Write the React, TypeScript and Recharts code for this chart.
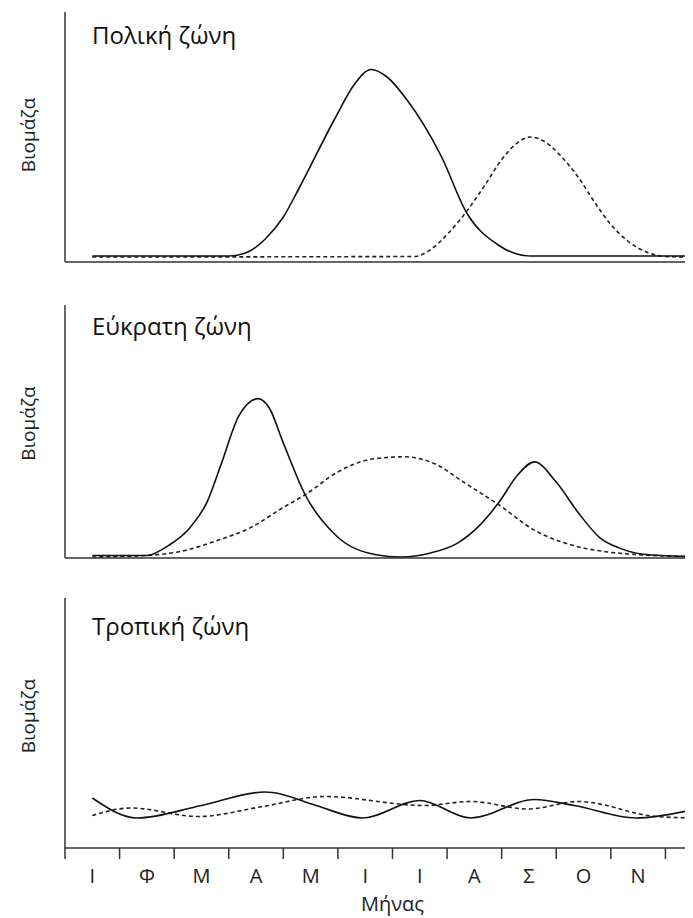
import { LineChart, Line, XAxis, YAxis, Label } from 'recharts'

const MONTHS = ['Ι', 'Φ', 'Μ', 'Α', 'Μ', 'Ι', 'Ι', 'Α', 'Σ', 'Ο', 'Ν', 'Δ']
const TICKS = [0, 1, 2, 3, 4, 5, 6, 7, 8, 9, 10, 11]

// x = month position (0 = start of Ι), v = biomass (0..100)
const polarSolidX = [0.5, 3.0, 3.35, 3.66, 4.0, 4.3, 4.96, 5.3, 5.61, 5.9, 6.26, 6.9, 7.35, 7.95, 8.52, 11.5]
const polarSolidV = [2.4, 2.4, 4, 9, 18, 30, 58, 71, 77, 74, 65, 42, 20, 6.6, 2.4, 2.4]
const polarDashX = [0.5, 6.4, 6.7, 7.0, 7.35, 7.7, 8.0, 8.25, 8.52, 8.8, 9.1, 9.4, 9.7, 10.0, 10.3, 10.65, 11.0, 11.5]
const polarDashV = [2.0, 2.2, 5, 11, 20, 31, 41, 47, 50, 48, 42, 34, 24, 15, 8.6, 4, 2.2, 2.0]

const tempSolidX = [0.5, 1.5, 1.9, 2.29, 2.6, 2.86, 3.18, 3.54, 3.75, 3.99, 4.4, 4.96, 5.7, 6.15, 6.7, 7.2, 7.6, 7.95, 8.3, 8.6, 9.0, 9.4, 9.8, 10.15, 10.6, 11.5]
const tempSolidV = [1, 1, 5, 12, 22, 37, 56, 63, 59, 46, 25, 9, 1.3, 0.4, 2, 6, 13, 22, 33, 38, 30, 18, 8, 4, 1.5, 0.5]
const tempDashX = [0.5, 1.5, 2.2, 2.8, 3.4, 4.0, 4.4, 5.0, 5.6, 6.2, 6.8, 7.3, 7.95, 8.6, 9.3, 9.9, 10.6, 11.5]
const tempDashV = [0.4, 1, 3, 7, 12, 20, 25, 34, 39, 40, 37, 30, 21, 11, 5, 2.5, 1.2, 0.6]

const tropSolidX = [0.5, 1.32, 2.5, 3.66, 3.8, 4.6, 5.45, 6.5, 7.43, 8.6, 9.33, 10.46, 11.43]
const tropSolidV = [20, 12, 17, 22.4, 22.2, 17, 12, 19, 12, 19.4, 17, 12, 15]
const tropDashX = [0.5, 1.2, 2.45, 3.6, 4.76, 6.58, 7.43, 8.48, 9.41, 10.79, 11.5]
const tropDashV = [13, 16, 12.6, 16.5, 20.6, 17, 18.6, 15.6, 18.6, 12.7, 12]

const toPoints = (xs: number[], vs: number[]) => xs.map((x, i) => ({ x, v: vs[i] }))

const FONT = '"Open Sans", "Noto Sans", sans-serif'
const AXIS_W = 57
const PLOT_W = 655
const CHART_W = AXIS_W + PLOT_W
const STEP = PLOT_W / 12

const YLabel = (props: any) => {
  const vb = props.viewBox || { x: 0, y: 0, width: AXIS_W, height: 250 }
  const cx = vb.x + 27
  const cy = vb.y + vb.height / 2 + (props.dy || 0)
  return (
    <text
      x={cx}
      y={cy}
      transform={`rotate(-90 ${cx} ${cy})`}
      textAnchor="middle"
      fontFamily={FONT}
      fontSize={19}
      fill="#222"
    >
      Βιομάζα
    </text>
  )
}

const XLabel = (props: any) => {
  const vb = props.viewBox || { x: AXIS_W, y: 254, width: PLOT_W, height: 72 }
  return (
    <text x={vb.x + vb.width / 2} y={vb.y + 63} textAnchor="middle" fontFamily={FONT} fontSize={20} fill="#222">
      Μήνας
    </text>
  )
}

const MonthTick = (props: any) => {
  const { x, y, payload } = props
  return (
    <g>
      <line x1={x} y1={y - 8} x2={x} y2={y + 3} stroke="#333" strokeWidth={1.5} />
      <text x={x + STEP / 2} y={y + 27} textAnchor="middle" fontFamily={FONT} fontSize={20} fill="#222">
        {MONTHS[payload.value]}
      </text>
    </g>
  )
}

function Panel({ title, solid, dashed, top, plotH, labelDy, last, titleTop }: any) {
  const xH = last ? 72 : 3
  return (
    <div style={{ position: 'absolute', left: 0, top }}>
      <LineChart
        width={CHART_W}
        height={4 + plotH + xH}
        margin={{ top: 4, right: 0, bottom: 0, left: 0 }}
      >
        <XAxis
          type="number"
          dataKey="x"
          domain={[0, 12]}
          ticks={TICKS}
          allowDataOverflow
          height={xH}
          stroke="#333"
          strokeWidth={1.5}
          tickLine={false}
          tick={last ? <MonthTick /> : false}
        >
          {last && <Label content={<XLabel />} />}
        </XAxis>
        <YAxis
          type="number"
          domain={[0, 100]}
          width={AXIS_W}
          tick={false}
          tickLine={false}
          stroke="#333"
          strokeWidth={1.5}
        >
          <Label content={<YLabel dy={labelDy} />} />
        </YAxis>
        <Line
          data={dashed}
          dataKey="v"
          type="monotone"
          stroke="#222"
          strokeWidth={1.6}
          strokeDasharray="4 3"
          dot={false}
          isAnimationActive={false}
        />
        <Line
          data={solid}
          dataKey="v"
          type="monotone"
          stroke="#111"
          strokeWidth={1.6}
          dot={false}
          isAnimationActive={false}
        />
      </LineChart>
      <div
        style={{
          position: 'absolute',
          left: 84,
          top: titleTop,
          fontFamily: FONT,
          fontSize: 24,
          lineHeight: 'normal',
          color: '#111',
          whiteSpace: 'nowrap',
        }}
      >
        {title}
      </div>
    </div>
  )
}

export default function App() {
  return (
    <div style={{ position: 'relative', width: 685, height: 910, overflow: 'hidden', background: '#fff' }}>
      <Panel
        title="Πολική ζώνη"
        solid={toPoints(polarSolidX, polarSolidV)}
        dashed={toPoints(polarDashX, polarDashV)}
        top={0}
        plotH={250}
        labelDy={-2}
        titleTop={10}
      />
      <Panel
        title="Εύκρατη ζώνη"
        solid={toPoints(tempSolidX, tempSolidV)}
        dashed={toPoints(tempDashX, tempDashV)}
        top={293}
        plotH={253}
        labelDy={-8}
        titleTop={8}
      />
      <Panel
        title="Τροπική ζώνη"
        solid={toPoints(tropSolidX, tropSolidV)}
        dashed={toPoints(tropDashX, tropDashV)}
        top={586}
        plotH={250}
        labelDy={-7}
        titleTop={15}
        last
      />
    </div>
  )
}
